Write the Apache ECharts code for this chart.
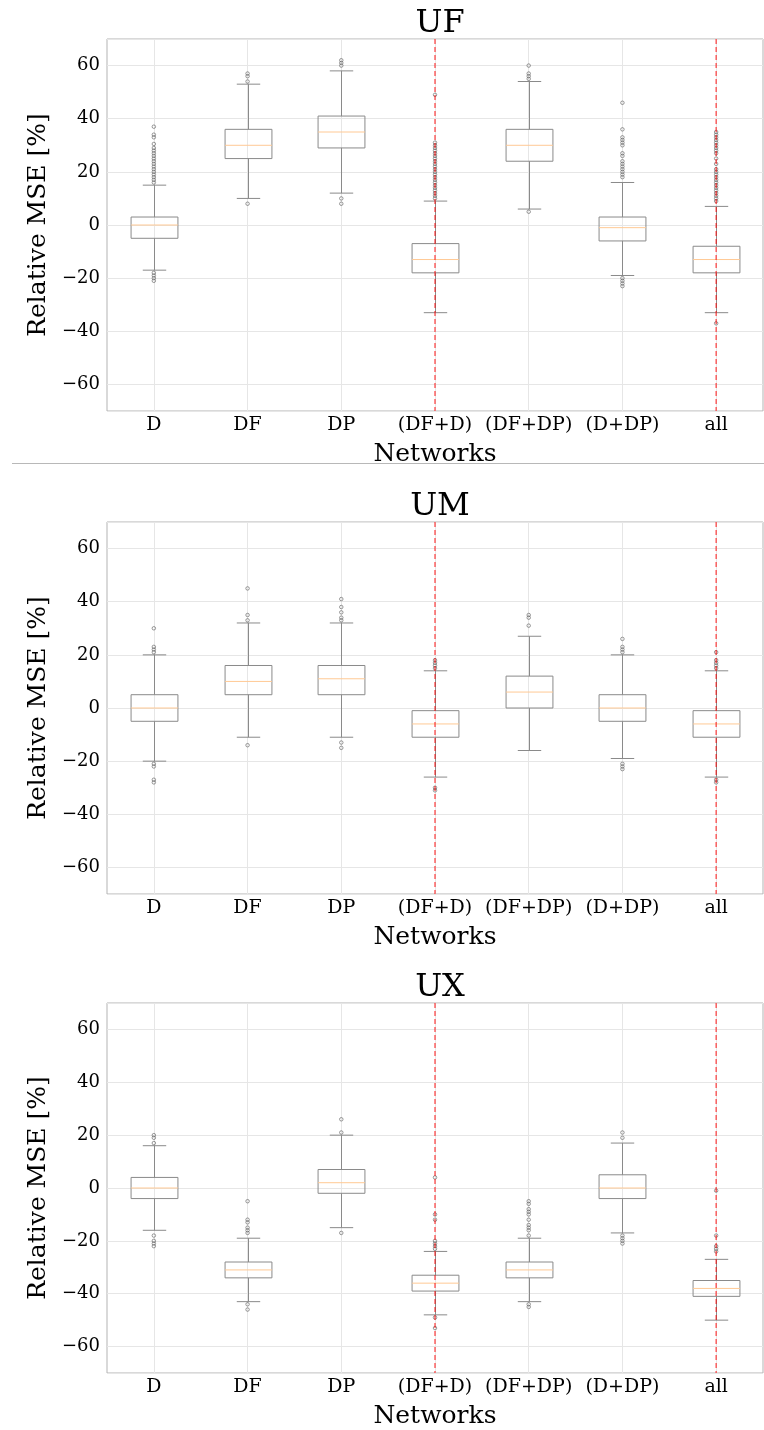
<!DOCTYPE html>
<html><head><meta charset="utf-8">
<script src="https://cdn.jsdelivr.net/npm/echarts@6/dist/echarts.min.js"></script>
<style>html,body{margin:0;padding:0;background:#fff}#c{width:764px;height:1430px}</style>
</head><body><div id="c"></div>
<script>
const categories = ['D','DF','DP','(DF+D)','(DF+DP)','(D+DP)','all'];
const panelTitles = ['UF','UM','UX'];
const yTicks = [-60,-40,-20,0,20,40,60];
const markedCategories = ['(DF+D)','all'];

// box statistics per category: [lower whisker, Q1, median, Q3, upper whisker]
const boxUF = [[-17,-5,0,3,15],[10,25,30,36,53],[12,29,35,41,58],[-33,-18,-13,-7,9],[6,24,30,36,54],[-19,-6,-1,3,16],[-33,-18,-13,-8,7]];
const boxUM = [[-20,-5,0,5,20],[-11,5,10,16,32],[-11,5,11,16,32],[-26,-11,-6,-1,14],[-16,0,6,12,27],[-19,-5,0,5,20],[-26,-11,-6,-1,14]];
const boxUX = [[-16,-4,0,4,16],[-43,-34,-31,-28,-19],[-15,-2,2,7,20],[-48,-39,-36,-33,-24],[-43,-34,-31,-28,-19],[-17,-4,0,5,17],[-50,-41,-38,-35,-27]];

// outliers per category
const outUF = [
  [16,17,18,19,20,21,22,23,24,25,26,27,28,29,30.5,33,34,37,-18,-19,-20,-21],
  [54,56,57,8],
  [60,61,62,8,10],
  [10,11,12,13,14,15,16,17,18,19,20,21,22,23,24,25,26,27,28,29,30,31,49],
  [55,56,57,60,5],
  [46,36,33,32,31,30,27,26,24,23,22,21,20,19,18,-20,-21,-22,-23],
  [35,34,33,32,31,30,29,28,27,25,23,21,20,19,18,17,16,15,14,13,12,11,10,9,-37]
];
const outUM = [
  [30,23,22,21,-21,-22,-27,-28],
  [45,35,33,-14],
  [41,38,36,34,33,-13,-15],
  [15,16,17,18,-30,-31],
  [35,34,31],
  [26,23,22,21,-21,-22,-23],
  [21,18,17,16,15,-27,-28]
];
const outUX = [
  [20,19,17,-18,-20,-21,-22],
  [-5,-12,-13,-15,-16,-17,-44,-46],
  [26,21,-17],
  [4,-10,-12,-20,-21,-22,-23,-49,-53],
  [-5,-6,-8,-9,-10,-12,-14,-15,-16,-18,-44,-45],
  [21,19,-18,-19,-20,-21],
  [-1,-18,-22,-23,-24]
];

const boxes = [boxUF, boxUM, boxUX];
const outs = [outUF, outUM, outUX];
const gridTops = [39, 522, 1003];
const gridH = 372;
const FONT = "'DejaVu Serif', serif";

function renderBox(params, api) {
  const x = api.value(0);
  const lo = api.coord([x, api.value(1)]);
  const q1 = api.coord([x, api.value(2)]);
  const md = api.coord([x, api.value(3)]);
  const q3 = api.coord([x, api.value(4)]);
  const hi = api.coord([x, api.value(5)]);
  const band = api.size([1, 0])[0];
  const bw = band * 0.5, cw = band * 0.25;
  const cx = Math.round(lo[0]) + 0.5;
  const st = { stroke: '#8a8a8a', lineWidth: 1, fill: null };
  return {
    type: 'group',
    children: [
      { type: 'rect', shape: { x: cx - bw / 2, y: q3[1], width: bw, height: q1[1] - q3[1] }, style: { stroke: '#8a8a8a', lineWidth: 1, fill: 'none' } },
      { type: 'line', shape: { x1: cx, y1: q3[1], x2: cx, y2: hi[1] }, style: st },
      { type: 'line', shape: { x1: cx, y1: q1[1], x2: cx, y2: lo[1] }, style: st },
      { type: 'line', shape: { x1: cx - cw / 2, y1: hi[1], x2: cx + cw / 2, y2: hi[1] }, style: st },
      { type: 'line', shape: { x1: cx - cw / 2, y1: lo[1], x2: cx + cw / 2, y2: lo[1] }, style: st },
      { type: 'line', shape: { x1: cx - bw / 2, y1: md[1], x2: cx + bw / 2, y2: md[1] }, style: { stroke: '#ffc994', lineWidth: 1 } }
    ]
  };
}

function renderVLine(params, api) {
  const cs = params.coordSys;
  const x = api.coord([api.value(0), 0])[0];
  return {
    type: 'line',
    shape: { x1: x, y1: cs.y, x2: x, y2: cs.y + cs.height },
    style: { stroke: '#ff0000', lineWidth: 1.3, lineDash: [5, 3], fill: null, opacity: 0.7 }
  };
}

const grid = [], xAxis = [], yAxis = [], series = [], title = [];
for (let p = 0; p < 3; p++) {
  grid.push({ left: 107, width: 656, top: gridTops[p], height: gridH, show: true, borderColor: '#b3b3b3', borderWidth: 1, backgroundColor: 'transparent' });
  title.push({ text: panelTitles[p], left: 435, top: gridTops[p] - 36, textAlign: 'center',
    textStyle: { fontFamily: FONT, fontSize: 32, fontWeight: 'normal', color: '#000' } });
  xAxis.push({
    type: 'category', gridIndex: p, data: categories, boundaryGap: true,
    name: 'Networks', nameLocation: 'middle', nameGap: 31,
    nameTextStyle: { fontFamily: FONT, fontSize: 25, color: '#000' },
    axisLine: { show: false }, axisTick: { show: false, alignWithLabel: true },
    axisLabel: { fontFamily: FONT, fontSize: 19, color: '#000', margin: 5, interval: 0 },
    splitLine: { show: true, alignWithLabel: true, lineStyle: { color: '#e6e6e6', width: 1 } }
  });
  yAxis.push({
    type: 'value', gridIndex: p, min: -70, max: 70, splitNumber: 7,
    name: 'Relative MSE [%]', nameLocation: 'middle', nameGap: 54,
    nameTextStyle: { fontFamily: FONT, fontSize: 25, color: '#000' },
    axisLine: { show: false }, axisTick: { show: false },
    axisLabel: { fontFamily: FONT, fontSize: 18, color: '#000', margin: 7,
      formatter: v => yTicks.includes(v) ? (v < 0 ? '\u2212' + Math.abs(v) : String(v)) : '' },
    splitLine: { show: true, lineStyle: { color: '#e6e6e6', width: 1 } }
  });
  series.push({
    type: 'custom', xAxisIndex: p, yAxisIndex: p,
    renderItem: renderBox,
    encode: { x: 0, y: [1, 2, 3, 4, 5] },
    data: boxes[p].map((b, i) => [i].concat(b)), z: 2
  });
  const pts = [];
  outs[p].forEach((arr, i) => arr.forEach(v => pts.push([i, v])));
  series.push({
    type: 'scatter', xAxisIndex: p, yAxisIndex: p,
    symbol: 'circle', symbolSize: 3.5,
    itemStyle: { color: 'rgba(0,0,0,0)', borderColor: '#606060', borderWidth: 0.8 },
    data: pts, z: 3
  });
  series.push({
    type: 'custom', xAxisIndex: p, yAxisIndex: p,
    renderItem: renderVLine,
    encode: { x: 0, y: 1 },
    data: markedCategories.map(c => [categories.indexOf(c), 0]), z: 5
  });
}

const chart = echarts.init(document.getElementById('c'), null, { renderer: 'canvas' });
chart.setOption({
  animation: false,
  backgroundColor: '#fff',
  title, grid, xAxis, yAxis, series,
  graphic: [{ type: 'line', shape: { x1: 12, y1: 463.5, x2: 764, y2: 463.5 }, style: { stroke: '#b8b8b8', lineWidth: 1 } }]
});
</script></body></html>
